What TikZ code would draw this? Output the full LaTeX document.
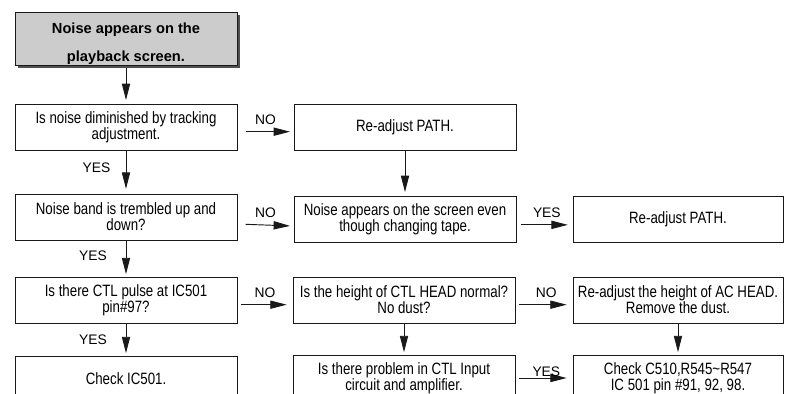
\documentclass[tikz,border=0pt]{standalone}
\usepackage{fontspec}
\setmainfont{Liberation Sans}
\newfontfamily\narrowsans[FakeStretch=0.81]{Liberation Sans}
\usetikzlibrary{arrows.meta,shadows}
\definecolor{boxInk}{RGB}{25,25,25}
\definecolor{titleGray}{RGB}{204,204,204}
\definecolor{shadowGray}{RGB}{80,80,80}
\begin{document}
\begin{tikzpicture}[x=0.03cm,y=-0.03cm,
  chkbox/.style={draw=boxInk,line width=0.8pt,fill=white,minimum width=6.66cm,minimum height=1.38cm,
                 inner sep=2pt,align=center,font=\narrowsans\fontsize{14}{13.8}\selectfont},
  rbox/.style={minimum width=6.3cm},
  titlebox/.style={draw=boxInk,line width=0.8pt,fill=titleGray,minimum width=6.66cm,minimum height=1.59cm,
                   drop shadow={shadow xshift=2.5pt,shadow yshift=-2.5pt,fill=shadowGray,opacity=1}},
  titletxt/.style={align=center,inner sep=0pt,font=\bfseries\fontsize{12.5}{15}\selectfont},
  flow/.style={draw=boxInk,line width=0.8pt,-{Triangle[length=14pt,width=7pt]}},
  lbl/.style={font=\fontsize{11.8}{13.6}\selectfont,inner sep=1pt}]
\useasboundingbox (0,0) rectangle (785,394);
\clip (0,0) rectangle (785,394);
% boxes
\node[titlebox] (title) at (126,38.5) {};
\node[titletxt] (titletext) at (126,44) {Noise appears on the\\[9pt]playback screen.};
\node[chkbox] (qtrack) at (126,127) {Is noise diminished by tracking\\adjustment.};
\node[chkbox] (readjA) at (405,127) {Re-adjust PATH.};
\node[chkbox] (qband) at (126,217) {Noise band is trembled up and\\down?};
\node[chkbox] (qtape) at (405,219) {Noise appears on the screen even\\though changing tape.};
\node[chkbox,rbox] (readjB) at (678,219) {Re-adjust PATH.};
\node[chkbox] (qpulse) at (126,300) {Is there CTL pulse at IC501\\pin\#97?};
\node[chkbox] (qhead) at (404,300) {Is the height of CTL HEAD normal?\\No dust?};
\node[chkbox,rbox] (readjH) at (678,300) {Re-adjust the height of AC HEAD.\\Remove the dust.};
\node[chkbox] (chkic) at (126,379) {Check IC501.};
\node[chkbox] (qinput) at (404,378) {Is there problem in CTL Input\\circuit and amplifier.};
\node[chkbox,rbox] (chkparts) at (678,378) {Check C510,R545\textasciitilde R547\\IC 501 pin \#91, 92, 98.};
% vertical flow
\draw[flow,shorten <=2pt,shorten >=3pt] (title.south) -- (qtrack.north);
\draw[flow,shorten >=4pt] (qtrack.south) -- node[lbl,left=12pt,yshift=4pt] (yesA) {YES} (qband.north);
\draw[flow,shorten >=3pt] (readjA.south) -- (qtape.north);
\draw[flow,shorten >=2pt] (qband.south) -- node[lbl,left=15pt,yshift=2pt] (yesB) {YES} (qpulse.north);
\draw[flow,shorten >=2pt] (qpulse.south) -- node[lbl,left=15pt] (yesC) {YES} (chkic.north);
\draw[flow,shorten >=2pt] (qhead.south) -- (qinput.north);
\draw[flow,shorten >=2pt] (readjH.south) -- (chkparts.north);
% horizontal flow
\draw[flow,shorten <=7pt,shorten >=3pt] ([yshift=-4pt]qtrack.east) -- node[lbl,above=5pt] (noA) {NO} ([yshift=-4pt]readjA.west);
\draw[flow,shorten <=7pt,shorten >=3pt] ([yshift=-6pt]qband.east) -- node[lbl,above=5pt] (noB) {NO} ([yshift=-6pt]qtape.west);
\draw[flow,shorten <=4pt,shorten >=4pt] ([yshift=-5pt]qtape.east) -- node[lbl,above=5pt,xshift=2pt] (yesD) {YES} ([yshift=-5pt]readjB.west);
\draw[flow,shorten <=3pt,shorten >=5pt] ([yshift=-4pt]qpulse.east) -- node[lbl,above=5pt] (noC) {NO} ([yshift=-4pt]qhead.west);
\draw[flow,shorten <=3pt,shorten >=5pt] ([yshift=-4pt]qhead.east) -- node[lbl,above=5pt,xshift=2pt] (noD) {NO} ([yshift=-4pt]readjH.west);
\draw[flow,shorten <=3pt,shorten >=5pt] (qinput.east) -- node[lbl,above=0pt,xshift=2pt] (yesE) {YES} (chkparts.west);
\end{tikzpicture}
\end{document}
